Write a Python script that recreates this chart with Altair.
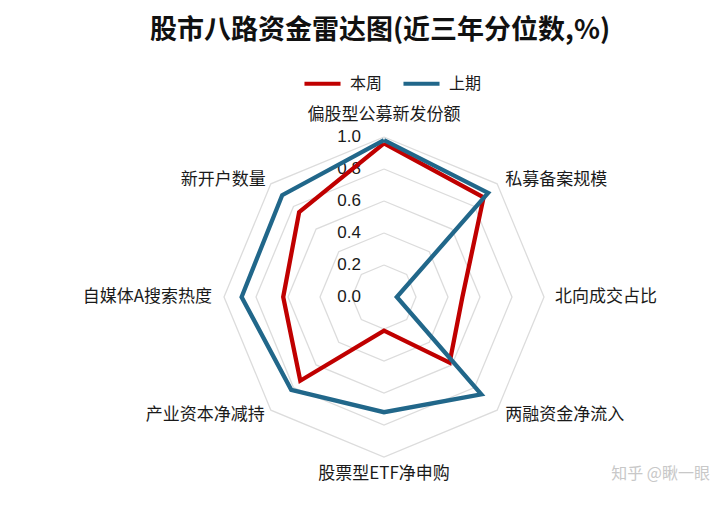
import altair as alt
import pandas as pd

# ---------------- data ----------------
categories = ["偏股型公募新发份额", "私募备案规模", "北向成交占比", "两融资金净流入",
              "股票型ETF净申购", "产业资本净减持", "自媒体A搜索热度", "新开户数量"]
this_week = [0.96, 0.88, 0.49, 0.58, 0.21, 0.74, 0.63, 0.75]
last_period = [0.98, 0.92, 0.08, 0.86, 0.72, 0.82, 0.89, 0.90]
series_names = ["本周", "上期"]
series_colors = ["#C00000", "#21678A"]
ring_ticks = [0.2, 0.4, 0.6, 0.8, 1.0]
tick_values = [0.0, 0.2, 0.4, 0.6, 0.8, 1.0]
tick_labels = ["0.0", "0.2", "0.4", "0.6", "0.8", "1.0"]
title_text = "股市八路资金雷达图(近三年分位数,%)"
watermark = "知乎 @瞅一眼"

n = len(categories)

rows = []
for name, vals in zip(series_names, [this_week, last_period]):
    for i in range(n + 1):
        rows.append({"series": name, "idx": i, "value": vals[i % n]})
series_df = pd.DataFrame(rows)
ring_df = pd.DataFrame([{"ring": r, "idx": i} for r in ring_ticks for i in range(n + 1)])
cat_df = pd.DataFrame({"idx": list(range(n)), "label": categories})
tick_df = pd.DataFrame({"v": tick_values, "label": tick_labels})
wm_df = pd.DataFrame({"t": [watermark]})

# ---------------- layout ----------------
W, H = 704, 430
CX, CY, R = 376, 229, 160
xs = alt.Scale(domain=[-CX / R, (W - CX) / R], nice=False, zero=False)
ys = alt.Scale(domain=[-(H - CY) / R, CY / R], nice=False, zero=False)
CJK = "Noto Sans CJK SC"


def polar(chart, rfield):
    return chart.transform_calculate(
        px=f"datum.{rfield} * sin(2 * PI * datum.idx / {n})",
        py=f"datum.{rfield} * cos(2 * PI * datum.idx / {n})",
    )


X = alt.X("px:Q", scale=xs, axis=None)
Y = alt.Y("py:Q", scale=ys, axis=None)

rings = polar(alt.Chart(ring_df), "ring").mark_line(
    color="#DCDCDC", strokeWidth=1.3
).encode(x=X, y=Y, detail="ring:N", order="idx:Q")

tick_text = alt.Chart(tick_df).transform_calculate(
    px="0", py="datum.v"
).mark_text(
    align="right", baseline="middle", dx=-23, fontSize=17,
    font="Liberation Sans", color="#1a1a1a"
).encode(x=X, y=Y, text="label:N")

color = alt.Color(
    "series:N",
    scale=alt.Scale(domain=series_names, range=series_colors),
    legend=alt.Legend(
        orient="none", legendX=294, legendY=-5, direction="horizontal", title=None,
        symbolType="stroke", symbolStrokeWidth=4, symbolSize=1300,
        labelFontSize=16, labelFont=CJK, labelColor="#1a1a1a",
        columnPadding=12, labelOffset=7, padding=0,
    ),
)


def series_layer(name):
    return polar(alt.Chart(series_df), "value").transform_filter(
        alt.datum.series == name
    ).mark_line(strokeWidth=4.3, strokeJoin="miter").encode(
        x=X, y=Y, color=color, order="idx:Q"
    )


def label_layer(idxs, **kw):
    base = alt.Chart(cat_df).transform_filter(
        alt.FieldOneOfPredicate(field="idx", oneOf=idxs)
    ).transform_calculate(
        px=f"sin(2 * PI * datum.idx / {n})",
        py=f"cos(2 * PI * datum.idx / {n})",
    )
    return base.mark_text(fontSize=17, font=CJK, color="#1a1a1a",
                          baseline="middle", **kw).encode(x=X, y=Y, text="label:N")


labels = [
    label_layer([0], align="center", dy=-22),
    label_layer([4], align="center", dy=17),
    label_layer([1], align="left", dx=8, dy=-4),
    label_layer([2], align="left", dx=11),
    label_layer([3], align="left", dx=8, dy=5),
    label_layer([5], align="right", dx=-6, dy=5),
    label_layer([6], align="right", dx=-12),
    label_layer([7], align="right", dx=-5, dy=-4),
]

wm = alt.Chart(wm_df).mark_text(
    align="right", baseline="middle", fontSize=16, font=CJK, color="#C8C8C8"
).encode(x=alt.value(702), y=alt.value(406), text="t:N")

chart = alt.layer(
    rings, tick_text, series_layer("本周"), series_layer("上期"), *labels, wm
).properties(
    width=W, height=H,
    autosize=alt.AutoSizeParams(type="none"),
    padding={"left": 0, "top": 60, "right": 0, "bottom": 0},
    title=alt.TitleParams(
        title_text, fontSize=27, fontWeight="bold", font=CJK, color="#111111",
        anchor="middle", dx=20, offset=18,
    ),
).configure_view(stroke=None)

chart.save("out.html", embed_options={"renderer": "svg", "actions": False})
